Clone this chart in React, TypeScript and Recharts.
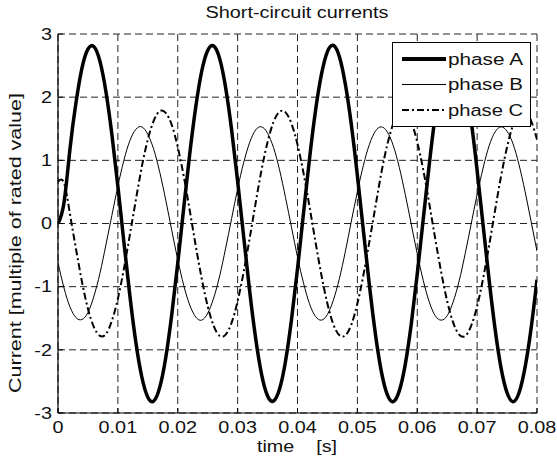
import { LineChart, Line, XAxis, YAxis, CartesianGrid, Legend } from "recharts"

// sampling grid, 1 ms steps from 0 to 0.08 s
const time = Array.from({ length: 81 }, (_, i) => +(i * 0.001).toFixed(3))

const phaseA = [
  0, 0.33, 1.18, 1.91, 2.46, 2.76, 2.8, 2.57, 2.09, 1.41, 0.59, -0.29, -1.14, -1.88, -2.43, -2.75, -2.81, -2.59, -2.12, -1.44, -0.63,
  0.25, 1.1, 1.84, 2.41, 2.74, 2.81, 2.61, 2.15, 1.48, 0.67, -0.2, -1.06, -1.81, -2.39, -2.73, -2.81, -2.62, -2.18, -1.52, -0.72,
  0.16, 1.02, 1.78, 2.36, 2.72, 2.82, 2.64, 2.2, 1.56, 0.76, -0.11, -0.97, -1.74, -2.34, -2.71, -2.82, -2.65, -2.23, -1.59, -0.8,
  0.07, 0.93, 1.71, 2.31, 2.7, 2.82, 2.67, 2.26, 1.63, 0.84, -0.03, -0.89, -1.67, -2.29, -2.68, -2.82, -2.68, -2.28, -1.67, -0.89,
]
const phaseB = [
  -0.62, -1.02, -1.32, -1.49, -1.52, -1.41, -1.15, -0.79, -0.34, 0.13, 0.59, 1.0, 1.31, 1.49, 1.53, 1.41, 1.17, 0.81, 0.37, -0.11, -0.57,
  -0.98, -1.29, -1.48, -1.53, -1.42, -1.18, -0.83, -0.39, 0.08, 0.55, 0.96, 1.28, 1.48, 1.53, 1.43, 1.2, 0.85, 0.41, -0.06, -0.53,
  -0.94, -1.27, -1.47, -1.53, -1.44, -1.21, -0.87, -0.44, 0.04, 0.5, 0.92, 1.25, 1.46, 1.53, 1.45, 1.23, 0.89, 0.46, -0.01, -0.48,
  -0.9, -1.24, -1.46, -1.53, -1.46, -1.24, -0.91, -0.48, -0.01, 0.46, 0.88, 1.23, 1.45, 1.53, 1.46, 1.26, 0.93, 0.51, 0.04, -0.44,
]
const phaseC = [
  0.66, 0.64, 0.15, -0.4, -0.92, -1.35, -1.64, -1.78, -1.75, -1.54, -1.19, -0.72, -0.18, 0.37, 0.9, 1.33, 1.63, 1.78, 1.75, 1.56, 1.21,
  0.75, 0.21, -0.35, -0.87, -1.31, -1.62, -1.78, -1.76, -1.57, -1.23, -0.77, -0.24, 0.32, 0.85, 1.29, 1.61, 1.77, 1.76, 1.58, 1.25,
  0.8, 0.27, -0.29, -0.82, -1.27, -1.6, -1.77, -1.77, -1.6, -1.27, -0.82, -0.29, 0.26, 0.8, 1.25, 1.58, 1.76, 1.77, 1.61, 1.29,
  0.85, 0.32, -0.24, -0.77, -1.23, -1.57, -1.76, -1.78, -1.62, -1.31, -0.87, -0.35, 0.21, 0.75, 1.21, 1.56, 1.75, 1.78, 1.63, 1.33,
]

const xTicks = [0, 0.01, 0.02, 0.03, 0.04, 0.05, 0.06, 0.07, 0.08]
const yTicks = [-3, -2, -1, 0, 1, 2, 3]
const seriesNames = ["phase A", "phase B", "phase C"]

const data = time.map((t, i) => ({ t, a: phaseA[i], b: phaseB[i], c: phaseC[i] }))

const FONT = "'Liberation Sans', Arial, Helvetica, sans-serif"
const FS = 16
const STRETCH = 1.24
const INK = "#111"

const XTick = ({ x, y, payload }: any) => (
  <g transform={`translate(${x},${y}) scale(${STRETCH},1)`}>
    <text textAnchor="middle" dy="0.71em" fontSize={FS} fill={INK} fontFamily={FONT}>{payload.value}</text>
  </g>
)

const YTick = ({ x, y, payload }: any) => (
  <g transform={`translate(${x},${y}) scale(${STRETCH},1)`}>
    <text textAnchor="end" dy="0.36em" fontSize={FS} fill={INK} fontFamily={FONT}>{payload.value}</text>
  </g>
)

const legendStyles = [
  { width: 4, dash: undefined },
  { width: 1, dash: undefined },
  { width: 2, dash: "7 3 2 3" },
]

const LegendBox = () => (
  <svg width={140} height={86} style={{ display: "block" }}>
    <rect x={0.5} y={0.5} width={138} height={84} fill="#fff" stroke="#000" strokeWidth={1} />
    {seriesNames.map((name, i) => {
      const cy = 17 + i * 25.5
      return (
        <g key={name}>
          <line x1={10} x2={54} y1={cy} y2={cy} stroke="#000" strokeWidth={legendStyles[i].width} strokeDasharray={legendStyles[i].dash} />
          <text x={56} y={cy} dy="0.36em" fontSize={FS} fontFamily={FONT} fill={INK} textLength={75} lengthAdjust="spacingAndGlyphs">{name}</text>
        </g>
      )
    })}
  </svg>
)

export default function App() {
  return (
    <div style={{ position: "fixed", left: 0, top: 0, width: 557, height: 466, background: "#fff" }}>
      <LineChart width={557} height={466} data={data} margin={{ top: 34, right: 20, bottom: 23, left: 0 }}>
        <CartesianGrid stroke="#222" strokeWidth={1} strokeDasharray="7 4" />
        <XAxis dataKey="t" type="number" domain={[0, 0.08]} ticks={xTicks} height={30} tickSize={-5} tickMargin={14}
          axisLine={{ stroke: "#000", strokeWidth: 1.2 }} tickLine={{ stroke: "#000" }} tick={<XTick />} allowDataOverflow />
        <XAxis xAxisId="top" orientation="top" type="number" domain={[0, 0.08]} ticks={xTicks} height={0} tickSize={-5}
          axisLine={{ stroke: "#000", strokeWidth: 1.2 }} tickLine={{ stroke: "#000" }} tick={false} allowDataOverflow />
        <YAxis type="number" domain={[-3, 3]} ticks={yTicks} width={58} tickSize={-5} tickMargin={11}
          axisLine={{ stroke: "#000", strokeWidth: 1.2 }} tickLine={{ stroke: "#000" }} tick={<YTick />} allowDataOverflow />
        <YAxis yAxisId="right" orientation="right" type="number" domain={[-3, 3]} ticks={yTicks} width={0} tickSize={-5}
          axisLine={{ stroke: "#000", strokeWidth: 1.2 }} tickLine={{ stroke: "#000" }} tick={false} allowDataOverflow />
        <Line type="natural" dataKey="a" name={seriesNames[0]} stroke="#000" strokeWidth={3.5} dot={false} isAnimationActive={false} />
        <Line type="natural" dataKey="b" name={seriesNames[1]} stroke="#000" strokeWidth={1} dot={false} isAnimationActive={false} />
        <Line type="natural" dataKey="c" name={seriesNames[2]} stroke="#000" strokeWidth={2} strokeDasharray="7 3 2 3" dot={false} isAnimationActive={false} />
        <Legend layout="horizontal" verticalAlign="middle" align="center" content={<LegendBox />}
          wrapperStyle={{ position: "absolute", left: 392, top: 42, width: 140, height: 86 }} />
        <text x={297} y={12} dy="0.36em" textAnchor="middle" fontSize={FS} fontFamily={FONT} fill={INK} textLength={183} lengthAdjust="spacingAndGlyphs">
          Short-circuit currents
        </text>
        <text x={297} y={446} dy="0.36em" textAnchor="middle" fontSize={FS} fontFamily={FONT} fill={INK} textLength={80} lengthAdjust="spacingAndGlyphs" style={{ whiteSpace: "pre" }}>
          {"time    [s]"}
        </text>
        <text x={15} y={243} dy="0.36em" textAnchor="middle" fontSize={FS} fontFamily={FONT} fill={INK} textLength={300} lengthAdjust="spacingAndGlyphs" transform="rotate(-90 15 243)">
          Current [multiple of rated value]
        </text>
      </LineChart>
    </div>
  )
}
